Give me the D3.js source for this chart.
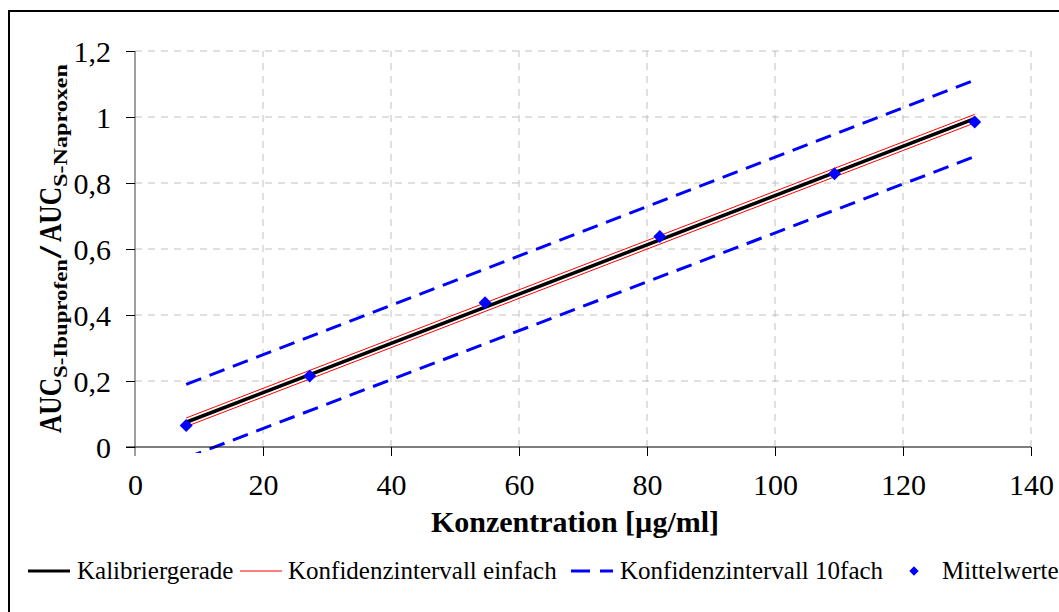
<!DOCTYPE html>
<html>
<head>
<meta charset="utf-8">
<script src="https://cdn.jsdelivr.net/npm/d3@7"></script>
<style>
  html, body { margin: 0; padding: 0; background: #fff; }
  svg { display: block; }
  svg text { font-family: "Liberation Serif", "Times New Roman", serif; }
</style>
</head>
<body>
<svg id="chart" width="1059" height="612"></svg>
<script>
// ---- data ----
const xTicks = [0, 20, 40, 60, 80, 100, 120, 140];
const yTicks = [0, 0.2, 0.4, 0.6, 0.8, 1.0, 1.2];
const yTickLabels = ["0", "0,2", "0,4", "0,6", "0,8", "1", "1,2"];

// Mittelwerte (mean values)
const meanX = [8.0, 27.3, 54.7, 82.0, 109.3, 131.2];
const meanY = [0.065, 0.215, 0.437, 0.638, 0.828, 0.985];

// Kalibriergerade (calibration line), evaluated at the line ends
const lineX = [8.0, 131.2];
const calibY = [0.075, 0.995];
// Konfidenzintervall einfach
const ciUpper = [0.088, 1.008];
const ciLower = [0.062, 0.982];
// Konfidenzintervall 10fach
const ci10Upper = [0.190, 1.112];
const ci10Lower = [-0.033, 0.880];

const legendLabels = ["Kalibriergerade", "Konfidenzintervall einfach", "Konfidenzintervall 10fach", "Mittelwerte"];

// ---- layout ----
const svg = d3.select("#chart");
const pLeft = 135, pRight = 1031, pTop = 51, pBottom = 447;
const FONT = "Liberation Serif";

const x = d3.scaleLinear().domain([0, 140]).range([pLeft, pRight]);
const y = d3.scaleLinear().domain([0, 1.2]).range([pBottom, pTop]);

// outer frame
svg.append("rect").attr("x", 9).attr("y", 11).attr("width", 1070).attr("height", 620)
  .attr("fill", "none").attr("stroke", "#000").attr("stroke-width", 2);

// grid
const grid = svg.append("g").attr("stroke", "#c0c0c0").attr("stroke-width", 1)
  .attr("stroke-dasharray", "7,6");
yTicks.filter(d => d > 0).forEach(d => {
  grid.append("line").attr("x1", pLeft).attr("x2", pRight).attr("y1", y(d)).attr("y2", y(d));
});
xTicks.filter(d => d > 0).forEach(d => {
  grid.append("line").attr("x1", x(d)).attr("x2", x(d)).attr("y1", pBottom).attr("y2", pTop);
});

// clip
svg.append("clipPath").attr("id", "plotclip").append("rect")
  .attr("x", pLeft).attr("y", pTop - 20).attr("width", pRight - pLeft + 20).attr("height", pBottom - pTop + 26);

const plot = svg.append("g").attr("clip-path", "url(#plotclip)");
const lineGen = d3.line().x(d => x(d[0])).y(d => y(d[1]));
const zip = (xs, ys) => xs.map((v, i) => [v, ys[i]]);

// 10fach CI dashed blue
[ci10Upper, ci10Lower].forEach(arr => {
  plot.append("path").attr("d", lineGen(zip(lineX, arr)))
    .attr("fill", "none").attr("stroke", "#0000ff").attr("stroke-width", 3)
    .attr("stroke-dasharray", "16,9");
});
// calibration line
plot.append("path").attr("d", lineGen(zip(lineX, calibY)))
  .attr("fill", "none").attr("stroke", "#000").attr("stroke-width", 3.5);
// simple CI red
[ciUpper, ciLower].forEach(arr => {
  plot.append("path").attr("d", lineGen(zip(lineX, arr)))
    .attr("fill", "none").attr("stroke", "#ff0000").attr("stroke-width", 1);
});

// mean values (diamonds)
const diamond = d3.symbol().type(d3.symbolSquare).size(84);
svg.append("g").selectAll("path").data(zip(meanX, meanY)).join("path")
  .attr("d", diamond)
  .attr("transform", d => `translate(${x(d[0])},${y(d[1])}) rotate(45)`)
  .attr("fill", "#0000ff");

// axes
const yAxis = d3.axisLeft(y).tickValues(yTicks).tickSize(9).tickFormat((d, i) => yTickLabels[i]);
const gy = svg.append("g").attr("transform", `translate(${pLeft},0)`).call(yAxis);
gy.select(".domain").attr("stroke", "#808080").attr("stroke-width", 1.5)
  .attr("d", `M0,${pTop}V${pBottom + 9}`);
gy.selectAll(".tick line").attr("stroke", "#000");
gy.selectAll(".tick text").attr("font-size", 30).attr("fill", "#000")
  .attr("x", -24).attr("dy", "0.34em").attr("font-family", FONT);

const xAxis = d3.axisBottom(x).tickValues(xTicks).tickSize(9).tickFormat(d3.format("d"));
const gx = svg.append("g").attr("transform", `translate(0,${pBottom})`).call(xAxis);
gx.select(".domain").attr("stroke", "#000").attr("stroke-width", 1)
  .attr("d", `M${pLeft - 9},0H${pRight}`);
gx.selectAll(".tick line").attr("stroke", "#000");
gx.selectAll(".tick text").attr("font-size", 30).attr("fill", "#000")
  .attr("y", 38).attr("dy", "0.34em").attr("font-family", FONT);
gx.selectAll(".tick").filter(d => d === 0).select("line").remove();

// x title
svg.append("text").attr("x", 575).attr("y", 532).attr("text-anchor", "middle")
  .attr("font-family", FONT).attr("font-size", 30).attr("font-weight", "bold")
  .text("Konzentration [µg/ml]");

// y title: pieces placed along the rotated axis
const yTitleParts = [
  { t: "AUC", size: 31, base: 61, from: 433, to: 378 },
  { t: "S-Ibuprofen", size: 18, base: 67, from: 378, to: 259 },
  { t: "/", size: 31, base: 61, from: 258, to: 246 },
  { t: "AUC", size: 31, base: 61, from: 242, to: 187 },
  { t: "S-Naproxen", size: 18, base: 67, from: 187, to: 64 }
];
yTitleParts.forEach(p => {
  svg.append("text")
    .attr("transform", `translate(${p.base},${p.from}) rotate(-90)`)
    .attr("font-family", FONT).attr("font-size", p.size).attr("font-weight", "bold")
    .attr("textLength", p.from - p.to).attr("lengthAdjust", "spacingAndGlyphs")
    .text(p.t);
});

// legend
const ly = 571;
const lg = svg.append("g");
const ltext = (xx, s) => lg.append("text").attr("x", xx).attr("y", ly + 8)
  .attr("font-family", FONT).attr("font-size", 25).attr("fill", "#000").text(s);
lg.append("line").attr("x1", 28).attr("x2", 70).attr("y1", ly).attr("y2", ly)
  .attr("stroke", "#000").attr("stroke-width", 3);
ltext(77, legendLabels[0]);
lg.append("line").attr("x1", 240).attr("x2", 282).attr("y1", ly).attr("y2", ly)
  .attr("stroke", "#ff0000").attr("stroke-width", 1);
ltext(288, legendLabels[1]);
lg.append("line").attr("x1", 571).attr("x2", 613).attr("y1", ly).attr("y2", ly)
  .attr("stroke", "#0000ff").attr("stroke-width", 3).attr("stroke-dasharray", "19,10");
ltext(620, legendLabels[2]);
lg.append("path").attr("d", d3.symbol().type(d3.symbolSquare).size(44))
  .attr("transform", `translate(914,${ly}) rotate(45)`).attr("fill", "#0000ff");
ltext(942, legendLabels[3]);
</script>
</body>
</html>
